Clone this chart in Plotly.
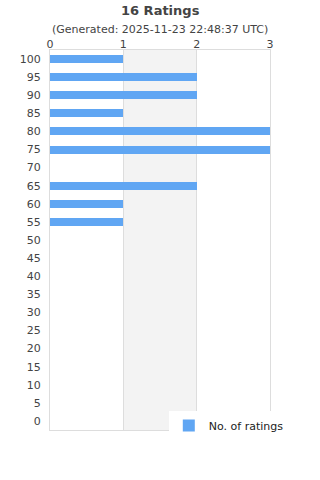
import plotly.graph_objects as go

ratings = [100, 95, 90, 85, 80, 75, 70, 65, 60, 55, 50, 45, 40, 35, 30, 25, 20, 15, 10, 5, 0]
counts = [1, 2, 2, 1, 3, 3, 0, 2, 1, 1, 0, 0, 0, 0, 0, 0, 0, 0, 0, 0, 0]
x_ticks = [0, 1, 2, 3]
title_text = "16 Ratings"
subtitle_text = "(Generated: 2025-11-23 22:48:37 UTC)"

fig = go.Figure()
fig.add_trace(go.Bar(
    x=counts, y=ratings, orientation="h", width=2.2,
    marker=dict(color="#60a6f3", line=dict(width=0)),
    name="No. of ratings", showlegend=True,
))

fig.add_shape(type="rect", xref="x", yref="paper", x0=1, x1=2, y0=0, y1=1,
              fillcolor="#f3f3f3", line=dict(width=0), layer="below")

fig.add_annotation(text="<b>" + title_text + "</b>", xref="paper", yref="paper",
                   x=0.5, y=1, yshift=40, xanchor="center", yanchor="middle",
                   showarrow=False, font=dict(size=13, color="#444"))
fig.add_annotation(text=subtitle_text, xref="paper", yref="paper",
                   x=0.5, y=1, yshift=21, xanchor="center", yanchor="middle",
                   showarrow=False, font=dict(size=11, color="#444"))

fig.update_layout(
    width=320, height=480,
    margin=dict(l=50, r=50, t=50, b=50),
    paper_bgcolor="white", plot_bgcolor="white",
    font=dict(family="DejaVu Sans", color="#444", size=11),
    showlegend=True,
    legend=dict(x=0.54, y=0.05, xanchor="left", yanchor="top", bgcolor="white",
                itemwidth=30,
                font=dict(size=11, color="#222"), borderwidth=0),
    bargap=0,
)
fig.update_xaxes(side="top", range=[0, 3], tickvals=x_ticks, showgrid=True, gridcolor="#dddddd",
                 showline=True, linecolor="#dddddd", mirror=True, zeroline=False,
                 ticks="", ticklabelstandoff=-3, tickfont=dict(size=11, color="#444"), fixedrange=True)
fig.update_yaxes(range=[-2.5, 102.5], tickvals=ratings, showgrid=False,
                 showline=True, linecolor="#dddddd", mirror=True, zeroline=False,
                 ticks="", ticklabelstandoff=6, tickfont=dict(size=11, color="#444"), fixedrange=True)

fig.write_html("out.html")
